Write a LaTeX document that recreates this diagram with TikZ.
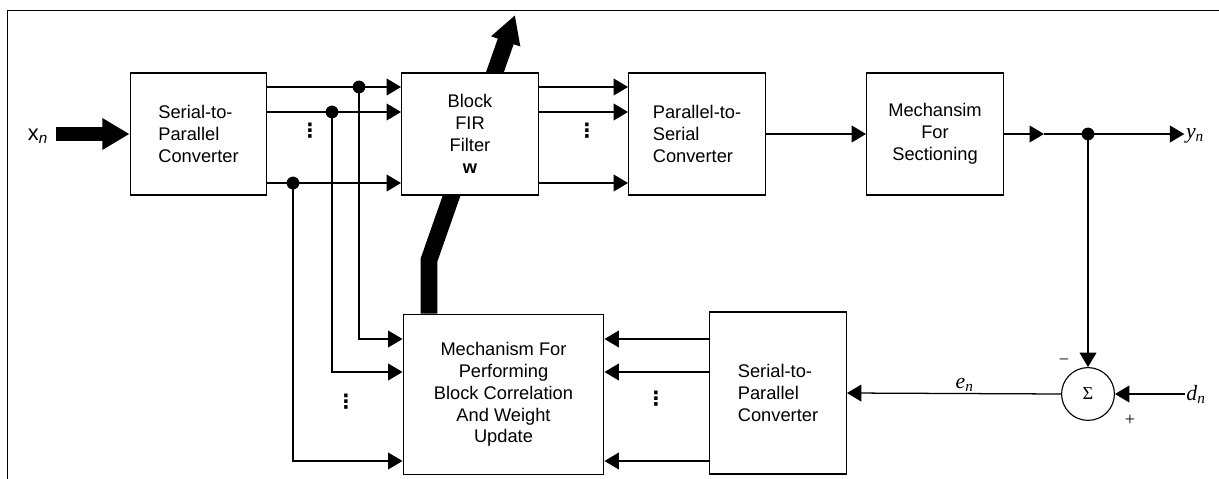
\documentclass[tikz,border=0pt]{standalone}
\usepackage{fontspec}
\setmainfont{Liberation Sans}
\newfontfamily\symfont{DejaVu Sans}
\newfontfamily\seriffont{Liberation Serif}
\usetikzlibrary{arrows.meta,backgrounds}
\newcommand\boxfont{\fontsize{13}{15.5}\selectfont}
\newcommand\labelfont{\fontsize{15.5}{18}\selectfont}
\newcommand\sigvar[1]{{\seriffont\itshape #1\textsubscript{n}}}
\tikzset{
  blockbox/.style={draw,fill=white,line width=0.8pt,minimum width=3.42cm,minimum height=3.05cm,inner sep=2pt,font=\boxfont},
  sumnode/.style={draw,circle,fill=white,line width=0.8pt,minimum size=1.32cm,inner sep=0pt,font=\seriffont\fontsize{13}{15}\selectfont},
  wire/.style={line width=0.9pt},
  sigarrow/.style={wire,-{Triangle[length=0.36cm,width=0.42cm]}},
  fatarrow/.style={line width=0.35cm,-{Triangle[length=0.68cm,width=0.75cm]}},
  joint/.style={circle,fill,inner sep=0pt,minimum size=0.32cm},
  lbl/.style={font=\labelfont,inner sep=1pt},
  vdots/.style={inner sep=0pt,font=\symfont\bfseries\fontsize{14}{16}\selectfont},
  frame/.style={line width=0.7pt}
}

\begin{document}
\begin{tikzpicture}[x=0.025cm,y=-0.025cm]
  \useasboundingbox (0,0) rectangle (1219,479);
  \draw[frame] (7,479) -- (7,10) -- (1219,10);

  \node[blockbox,align=left] (sp1) at (198.5,134) {Serial-to-\\Parallel\\Converter};
  \node[blockbox,align=center] (fir) at (470,134) {Block\\FIR\\Filter\\\textbf{w}};
  \node[blockbox,align=left] (p2s) at (697,134) {Parallel-to-\\Serial\\Converter};
  \node[blockbox,align=center] (sect) at (935,134) {Mechansim\\For\\Sectioning};
  \node[blockbox,align=center,minimum width=5.02cm,minimum height=4.02cm] (mech) at (503.5,394.5)
    {Mechanism For\\Performing\\Block Correlation\\And Weight\\Update};
  \node[blockbox,align=left,minimum height=4.05cm] (sp2) at (778,393) {Serial-to-\\Parallel\\Converter};
  \node[sumnode] (sum) at (1088,394) {Σ};

  \node[lbl] (xlab) at (38,136) {x\textsubscript{\itshape n}};
  \node[lbl] (ylab) at (1195,136) {\sigvar{y}};
  \node[lbl] (dlab) at (1196,394) {\sigvar{d}};
  \node[lbl,font=\seriffont\fontsize{13}{15}\selectfont] (minus) at (1064,362) {−};
  \node[lbl,font=\seriffont\fontsize{13}{15}\selectfont] (plus) at (1130,420) {+};

  \node[joint] (j1) at (359,87) {};
  \node[joint] (j2) at (332,112) {};
  \node[joint] (j3) at (293,183) {};
  \node[joint] (jy) at (1088,134) {};
  \coordinate (m1) at (0,339);
  \coordinate (m2) at (0,372);
  \coordinate (m3) at (0,461);
  \coordinate (wbend) at (429,260);
  \coordinate (wtip) at (515,15);

  \foreach \x/\y [count=\i] in {310/131,587/131,346/402,656/399}
    \node[vdots] (vd\i) at (\x,\y) {⋮};

  \foreach \j in {j1,j2,j3} {
    \draw[sigarrow] (sp1.east |- \j) -- (fir.west |- \j);
    \draw[sigarrow] (fir.east |- \j) -- (p2s.west |- \j);
  }
  \foreach \j/\m in {j1/m1,j2/m2,j3/m3} {
    \draw[sigarrow] (\j.center) -- (\j |- \m) -- (mech.west |- \m);
    \draw[sigarrow] (sp2.west |- \m) -- (mech.east |- \m);
  }

  \draw[sigarrow] (p2s.east) -- (sect.west);
  \draw[sigarrow] (sect.east) -- ++(40,0) coordinate (ymid);
  \draw[wire] (ymid) -- (jy.center);
  \draw[sigarrow] (jy.center) -- (jy -| ylab.west);
  \draw[sigarrow] (jy.center) -- (sum.north);
  \draw[sigarrow] (dlab.west) -- (sum.east);
  \draw[sigarrow] (sum.west) -- node[lbl,above,pos=0.45] (elab) {\sigvar{e}} (sp2.east);

  \begin{scope}[on background layer]
    \draw[fatarrow] ([xshift=0.15cm]xlab.east |- sp1.west) -- (sp1.west);
    \draw[line width=0.42cm,-{Triangle[length=0.7cm,width=0.72cm]}] (mech.north -| wbend) -- (wbend) -- (wtip);
  \end{scope}
\end{tikzpicture}
\end{document}
